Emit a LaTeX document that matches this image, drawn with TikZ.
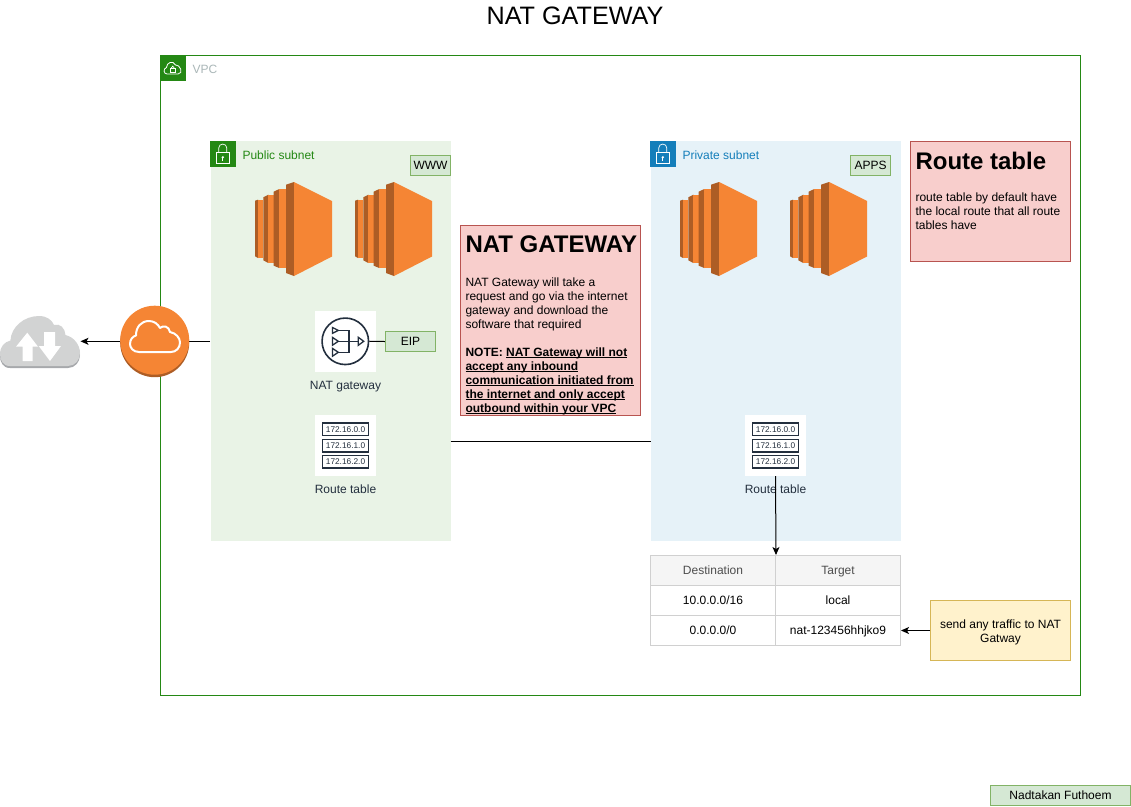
\documentclass[tikz,border=0pt]{standalone}
\usepackage{fontspec}
\setmainfont{Liberation Sans}
\usetikzlibrary{arrows.meta}
\definecolor{vpcgreen}{HTML}{248814}
\definecolor{vpcgrey}{HTML}{AAB7B8}
\definecolor{pubfill}{HTML}{E9F3E6}
\definecolor{prvfill}{HTML}{E6F2F8}
\definecolor{prvblue}{HTML}{147EBA}
\definecolor{tagfill}{HTML}{D5E8D4}
\definecolor{tagline}{HTML}{82B366}
\definecolor{notefill}{HTML}{F8CECC}
\definecolor{noteline}{HTML}{B85450}
\definecolor{sendfill}{HTML}{FFF2CC}
\definecolor{sendline}{HTML}{D6B656}
\definecolor{ecorange}{HTML}{F58534}
\definecolor{ecdark}{HTML}{AD5D25}
\definecolor{iconink}{HTML}{232F3E}
\definecolor{cloudgrey}{HTML}{D2D3D3}
\definecolor{clouddark}{HTML}{A7A9AC}
\definecolor{cellline}{HTML}{D0D0D0}
\definecolor{cellhead}{HTML}{F5F5F5}
\definecolor{celltext}{HTML}{4D4D4D}

\newcommand{\noteline}[1]{\textbf{\underline{\smash{#1}}}}

\newcommand{\ecinstance}[2]{
\begin{scope}[shift={(#1,#2)}]
\fill[ecdark]   (0,18.7) -- (3,17.7) -- (3,76) -- (0,74.3) -- cycle;
\fill[ecorange] (3,17.7) -- (8.3,17.7) -- (8.3,76) -- (3,76) -- cycle;
\fill[ecdark]   (8.3,15.3) -- (13.3,12.7) -- (13.3,81) -- (8.3,78.3) -- cycle;
\fill[ecorange] (13.3,12.7) -- (18.7,12.7) -- (18.7,81) -- (13.3,81) -- cycle;
\fill[ecdark]   (18.7,9.7) -- (24.3,7) -- (24.3,86) -- (18.7,83.7) -- cycle;
\fill[ecorange] (24.3,7) -- (31,7) -- (31,86) -- (24.3,86) -- cycle;
\fill[ecdark]   (31,2.7) -- (39,0) -- (39,94) -- (31,91) -- cycle;
\fill[ecorange] (39,0) -- (77,19) -- (77,74.5) -- (39,94) -- cycle;
\end{scope}
}

\newcommand{\lockbadge}[3]{
\begin{scope}[shift={(#1,#2)}]
\fill[#3] (0,0) rectangle (25.5,25.5);
\draw[white, line width=0.7] (6,11.5) rectangle (19.5,22.5);
\draw[white, line width=0.7] (8.7,11.5) -- (8.7,7) .. controls (8.7,1.8) and (16.8,1.8) .. (16.8,7) -- (16.8,11.5);
\fill[white] (12.75,16.3) circle (1.3);
\draw[white, line width=0.7] (12.75,16.3) -- (12.75,19.5);
\end{scope}
}

\newcommand{\routetable}[3]{
\node[iconbox] (#1) at (#2,#3) {};
\foreach \r/\ip in {0/172.16.0.0, 1/172.16.1.0, 2/172.16.2.0}
  \node[iprow] (#1r\r) at (#2,#3-16.3+16.3*\r) {\ip};
}

\begin{document}
\begin{tikzpicture}[x=1pt, y=-1pt, >={Stealth[length=8pt,width=7pt,inset=2pt]}, line width=1pt]

\useasboundingbox (0,0) rectangle (1131,806);

\tikzstyle{txt12}=[font=\fontsize{12}{14}\selectfont]
\tikzstyle{line12}=[txt12, text height=10pt, text depth=2pt]
\tikzstyle{tagbox}=[line12, rectangle, fill=tagfill, draw=tagline, inner sep=0pt]
\tikzstyle{notebox}=[rectangle, fill=notefill, draw=noteline, inner sep=0pt]
\tikzstyle{notetitle}=[font=\fontsize{24}{28}\bfseries\selectfont, anchor=west, inner sep=0pt]
\tikzstyle{notetext}=[txt12, anchor=north west, align=left, inner sep=0pt]
\tikzstyle{iconbox}=[rectangle, fill=white, draw=none, minimum size=60.4pt, inner sep=0pt]
\tikzstyle{iconlabel}=[line12, text=iconink, inner sep=0pt]
\tikzstyle{iprow}=[rectangle, fill=white, draw=iconink, line width=1.5pt, minimum width=46pt, minimum height=12.5pt, inner sep=0pt, text=iconink, font=\fontsize{8.3}{10}\selectfont]
\tikzstyle{cell}=[line12, rectangle, draw=cellline, minimum width=125pt, minimum height=30pt, inner sep=0pt, fill=white]
\tikzstyle{headcell}=[cell, fill=cellhead, text=celltext]

\node[font=\fontsize{25.2}{30}\selectfont, inner sep=0pt] (title) at (575,15.5) {NAT GATEWAY};

\node[rectangle, draw=vpcgreen, fill=white, minimum width=920pt, minimum height=640pt, inner sep=0pt] (vpc) at (620.5,375.5) {};
\fill[vpcgreen] (160,55) rectangle (185.5,80.5);
\draw[white, line width=0.8] (167,74) .. controls (163.5,74) and (163,68.5) .. (166.5,67.5)
  .. controls (166.5,62.5) and (173,60) .. (175.5,65) .. controls (180,64) and (184,74) .. (178,74) -- cycle;
\draw[white, line width=0.7] (170.5,68) rectangle (175,72);
\draw[white, line width=0.7] (171.3,68) .. controls (171.3,65.5) and (174.2,65.5) .. (174.2,68);
\node[line12, text=vpcgrey, anchor=west, inner sep=0pt] (vpcname) at (192,69) {VPC};

\node[rectangle, fill=pubfill, draw=none, minimum width=240pt, minimum height=400pt, inner sep=0pt] (pub) at (330.5,341) {};
\node[rectangle, fill=prvfill, draw=none, minimum width=250pt, minimum height=400pt, inner sep=0pt] (prv) at (775.5,341) {};
\lockbadge{210}{141}{vpcgreen}
\lockbadge{650}{141}{prvblue}
\node[line12, text=vpcgreen, anchor=west, inner sep=0pt] (pubname) at (242,155.5) {Public subnet};
\node[line12, text=prvblue, anchor=west, inner sep=0pt] (prvname) at (682,155.5) {Private subnet};

\node[tagbox, minimum width=40pt, minimum height=20.5pt] (www) at (430.5,165.5) {WWW};
\node[tagbox, minimum width=40pt, minimum height=20.5pt] (apps) at (870.5,165.5) {APPS};

\ecinstance{255}{182}
\ecinstance{355}{182}
\ecinstance{680}{182}
\ecinstance{790}{182}

\node[iconbox] (nat) at (345.5,341.3) {};
\node[circle, draw=iconink, line width=1.6pt, minimum size=46.5pt, inner sep=0pt] (natring) at (345.3,341.3) {};
\begin{scope}[draw=iconink, line width=1.3pt]
\draw (332.5,327.5) -- (338.3,330.4) -- (332.5,333.3) -- cycle;
\draw (332.5,337.4) -- (338.3,341.3) -- (332.5,345.2) -- cycle;
\draw (332.5,348.4) -- (338.3,352.3) -- (332.5,356.2) -- cycle;
\draw (338.3,330.4) -- (349,330.4) -- (349,352.3) -- (338.3,352.3);
\draw (338.3,341.3) -- (358.3,341.3);
\draw (358.3,337.3) -- (363.7,341.3) -- (358.3,345.3) -- cycle;
\end{scope}
\node[iconlabel] (natname) at (345.5,385) {NAT gateway};
\node[tagbox, minimum width=50.5pt, minimum height=20.5pt] (eip) at (410.5,341.5) {EIP};
\draw (natring.east) -- (eip.west);

\routetable{rt0}{345.5}{445.5}
\node[iconlabel] (rt0name) at (345.5,489) {Route table};
\routetable{rt1}{775.5}{445.5}
\node[iconlabel] (rt1name) at (775.5,489) {Route table};

\node[notebox, minimum width=180pt, minimum height=190pt] (natnote) at (550.5,320.5) {};
\node[notetitle] (natnotehead) at (465,244.5) {NAT GATEWAY};
\node[notetext] (natnotebody) at (465,277) {NAT Gateway will take a\\request and go via the internet\\gateway and download the\\software that required\\[14pt]\textbf{NOTE:} \noteline{NAT Gateway will not}\\\noteline{accept any inbound}\\\noteline{communication initiated from}\\\noteline{the internet and only accept}\\\noteline{outbound within your VPC}};

\node[notebox, minimum width=160pt, minimum height=120pt] (rtnote) at (990.5,201) {};
\node[notetitle] (rtnotehead) at (915,161) {Route table};
\node[notetext] (rtnotebody) at (915,192.5) {route table by default have\\the local route that all route\\tables have};

\node[headcell] (dest) at (713,570.5) {Destination};
\node[headcell] (targ) at (838,570.5) {Target};
\node[cell] (dest0) at (713,600.5) {10.0.0.0/16};
\node[cell] (targ0) at (838,600.5) {local};
\node[cell] (dest1) at (713,630.5) {0.0.0.0/0};
\node[cell] (targ1) at (838,630.5) {nat-123456hhjko9};

\node[rectangle, fill=sendfill, draw=sendline, minimum width=140pt, minimum height=60pt, inner sep=0pt] (send) at (1000.5,630.5) {};
\node[txt12, inner sep=0pt, align=center] (sendtext) at (1000.5,632) {send any traffic to NAT\\Gatway};

\node[rectangle, draw=none, minimum width=80pt, minimum height=52pt, inner sep=0pt] (inet) at (40,342) {};
\begin{scope}[yshift=-2pt]
\fill[clouddark] (10,366) .. controls (3,366) and (0,360) .. (0,354) .. controls (0,347) and (4,342) .. (10.5,340.5)
  .. controls (11,327) and (24,316) .. (39,316) .. controls (47,316) and (52,320) .. (54,325)
  .. controls (60,323) and (65,328) .. (65.5,335) .. controls (74,337) and (80,345) .. (80,353) .. controls (80,360) and (75,366) .. (68,366) -- cycle;
\end{scope}
\fill[cloudgrey] (10,366) .. controls (3,366) and (0,360) .. (0,354) .. controls (0,347) and (4,342) .. (10.5,340.5)
  .. controls (11,327) and (24,316) .. (39,316) .. controls (47,316) and (52,320) .. (54,325)
  .. controls (60,323) and (65,328) .. (65.5,335) .. controls (74,337) and (80,345) .. (80,353) .. controls (80,360) and (75,366) .. (68,366) -- cycle;
\fill[white] (27.3,332.7) -- (38,346.7) -- (32.7,346.7) -- (32.7,361) -- (22.7,361) -- (22.7,346.7) -- (16,346.7) -- cycle;
\fill[white] (50,361) -- (61,346) -- (55,346) -- (55,332) -- (44,332) -- (44,346) -- (38.7,346) -- cycle;

\draw (pub.west |- nat) -- (154.7,341.3);
\fill[ecdark] (154.7,342.7) circle (34.5);
\node[circle, fill=ecorange, draw=none, minimum size=69pt, inner sep=0pt] (igw) at (154.7,340.2) {};
\draw[white, line width=2pt, line join=round] (139,352) .. controls (133,352) and (130,347.5) .. (130,344)
  .. controls (130,339) and (133,336.5) .. (136,335.5) .. controls (136,327) and (141,321) .. (149,321)
  .. controls (154,321) and (158,324) .. (160,328) .. controls (163,325) and (169,326) .. (170,332)
  .. controls (176,333) and (180,338) .. (180,342.5) .. controls (180,348) and (176,352) .. (171,352) -- cycle;

\coordinate (pubedge) at (450.5,441);
\coordinate (prvedge) at (650.5,441);
\draw (pubedge) -- (prvedge);

\draw[->] (igw.west |- nat) -- (inet.east |- nat);
\draw[->] (rt1.south) -- (dest.north east);
\draw[->] (send.west) -- (targ1.east);

\node[tagbox, minimum width=140pt, minimum height=20pt] (credit) at (1060.5,795.5) {Nadtakan Futhoem};

\end{tikzpicture}
\end{document}
